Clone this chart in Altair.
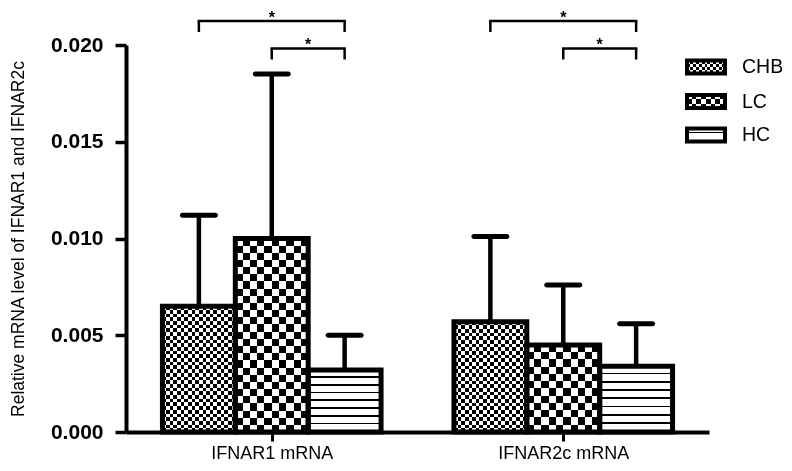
import altair as alt
import pandas as pd

# ---------------- data ----------------
genes = ["IFNAR1 mRNA", "IFNAR2c mRNA"]
groups = ["CHB", "LC", "HC"]
mean_chb = [0.0065, 0.0057]
mean_lc = [0.0100, 0.0045]
mean_hc = [0.0032, 0.0034]
sd_chb = [0.0047, 0.0044]
sd_lc = [0.0085, 0.0031]
sd_hc = [0.0018, 0.0022]
y_ticks = [0.0, 0.005, 0.010, 0.015, 0.020]
y_title = "Relative mRNA level of IFNAR1 and IFNAR2c"

# significance brackets
sig_gene = ["IFNAR1 mRNA", "IFNAR1 mRNA", "IFNAR2c mRNA", "IFNAR2c mRNA"]
sig_from = ["CHB", "LC", "CHB", "LC"]
sig_to = ["HC", "HC", "HC", "HC"]
sig_level = [0.02124, 0.01982, 0.02124, 0.01982]
sig_label = ["*", "*", "*", "*"]

# ---------------- layout / style ----------------
W, H = 583, 387
YMAX = 0.02
PX = H / YMAX            # pixels per unit on y
XUNITS = 8.0             # x domain (bar widths)
BAR_PX = W / XUNITS
FONT = "Liberation Sans"

means = {"CHB": mean_chb, "LC": mean_lc, "HC": mean_hc}
sds = {"CHB": sd_chb, "LC": sd_lc, "HC": sd_hc}

rows = []
for gi, g in enumerate(genes):
    for gj, grp in enumerate(groups):
        x0 = 4 * gi + 0.5 + gj
        m = means[grp][gi]
        rows.append(dict(gene=g, group=grp, x0=x0, x1=x0 + 1, xc=x0 + 0.5,
                         mean=m, top=m + sds[grp][gi], base=0.0))
df = pd.DataFrame(rows)

def center(gene, grp):
    return 4 * genes.index(gene) + 0.5 + groups.index(grp) + 0.5

sig_rows = []
for g, a, b, lv, lab in zip(sig_gene, sig_from, sig_to, sig_level, sig_label):
    xa, xb = center(g, a), center(g, b)
    sig_rows.append(dict(xa=xa, xb=xb, xm=(xa + xb) / 2, level=lv,
                         low=lv - 11 / PX, star=lv + 7 / PX, label=lab))
dsig = pd.DataFrame(sig_rows)

xscale = alt.Scale(domain=[0, XUNITS], nice=False, zero=False)
yscale = alt.Scale(domain=[0, YMAX], nice=False)
gene_centers = [4 * i + 2 for i in range(len(genes))]
label_expr = " : ".join(
    [f"datum.value == {c} ? '{g}'" for c, g in zip(gene_centers[:-1], genes[:-1])]
    + [f"'{genes[-1]}'"])
xaxis = alt.Axis(values=gene_centers, labelExpr=label_expr, title=None, grid=False,
                 domainWidth=4, domainColor="black", tickWidth=3, tickColor="black",
                 tickSize=9, labelFontSize=18, labelFont=FONT, labelColor="black",
                 labelPadding=3, labelFlush=False)
yaxis = alt.Axis(values=y_ticks, format=".3f", title=y_title, titleFont=FONT,
                 titleFontSize=17.5, titleFontWeight="normal", titleColor="black",
                 titlePadding=23, labelFont=FONT, labelFontSize=21,
                 labelFontWeight="bold", labelColor="black", tickSize=11,
                 tickWidth=3.5, tickColor="black", labelPadding=12,
                 domainWidth=4, domainColor="black", grid=False)

def X(f):
    return alt.X(f, type="quantitative", scale=xscale, axis=xaxis)

def Y(f):
    return alt.Y(f, type="quantitative", scale=yscale, axis=yaxis)

def grad(segments, direction):
    stops = []
    for a, b, c in segments:
        stops.append(alt.GradientStop(offset=round(a, 5), color=c))
        stops.append(alt.GradientStop(offset=round(b, 5), color=c))
    if direction == "y":
        return alt.LinearGradient(gradient="linear", stops=stops, x1=0, y1=0, x2=0, y2=1)
    return alt.LinearGradient(gradient="linear", stops=stops, x1=0, y1=0, x2=1, y2=0)

def alternating(n, c1="white", c2="black"):
    n = max(n, 1)
    return [(k / n, (k + 1) / n, c1 if k % 2 == 0 else c2) for k in range(n)]

def lines(n, frac):
    n = max(n, 1)
    segs = []
    for k in range(n):
        segs.append((k / n, (k + 1 - frac) / n, "white"))
        segs.append(((k + 1 - frac) / n, (k + 1) / n, "black"))
    return segs

CELL = {"CHB": 3.65, "LC": 7.3}

layers = []
for r in rows:
    h = r["mean"] * PX
    flt = (alt.datum.gene == r["gene"]) & (alt.datum.group == r["group"])
    enc = dict(x=X("x0"), x2="x1", y=Y("mean"), y2="base")
    if r["group"] in CELL:
        cs = CELL[r["group"]]
        base = grad(alternating(int(round(h / cs))), "y")
        over = grad(alternating(int(round(BAR_PX / cs)), "black", "white"), "x")
        layers.append(alt.Chart(df).transform_filter(flt).mark_rect(fill=base).encode(**enc))
        layers.append(alt.Chart(df).transform_filter(flt)
                      .mark_rect(fill=over, blend="difference").encode(**enc))
    else:
        layers.append(alt.Chart(df).transform_filter(flt)
                      .mark_rect(fill=grad(lines(int(round(h / 8.0)), 0.2), "y")).encode(**enc))

# outlines
layers.append(alt.Chart(df).mark_rect(fillOpacity=0, stroke="black", strokeWidth=5,
                                      strokeJoin="miter")
              .encode(x=X("x0"), x2="x1", y=Y("mean"), y2="base"))
# error bars (upper only)
layers.append(alt.Chart(df).mark_rule(color="black", strokeWidth=4.5)
              .encode(x=X("xc"), y=Y("mean"), y2="top"))
layers.append(alt.Chart(df).mark_tick(orient="horizontal", size=38, thickness=5,
                                      color="black", opacity=1, cornerRadius=2.5)
              .encode(x=X("xc"), y=Y("top")))
# significance brackets
layers.append(alt.Chart(dsig).mark_rule(color="black", strokeWidth=2.5, strokeCap="square")
              .encode(x=X("xa"), x2="xb", y=Y("level")))
layers.append(alt.Chart(dsig).mark_rule(color="black", strokeWidth=2.5)
              .encode(x=X("xa"), y=Y("level"), y2="low"))
layers.append(alt.Chart(dsig).mark_rule(color="black", strokeWidth=2.5)
              .encode(x=X("xb"), y=Y("level"), y2="low"))
layers.append(alt.Chart(dsig).mark_text(fontSize=16, fontWeight="bold", font=FONT,
                                        color="black", baseline="alphabetic", dy=9)
              .encode(x=X("xm"), y=Y("star"), text="label"))

# legend
leg_df = pd.DataFrame({"group": groups})
LEG_X0, LEG_X1, LEG_TX = 561, 599, 616
LEG_Y = [22, 56.5, 90]
SW_H = 13
leg_fill = {
    "CHB": (grad(alternating(4), "y"), grad(alternating(13, "black", "white"), "x")),
    "LC": (grad(alternating(3), "y"), grad(alternating(8, "black", "white"), "x")),
    "HC": (grad(lines(3, 0.14), "y"), None),
}
for grp, yc in zip(groups, LEG_Y):
    flt = alt.datum.group == grp
    enc = dict(x=alt.value(LEG_X0), x2=alt.value(LEG_X1),
               y=alt.value(yc - SW_H / 2), y2=alt.value(yc + SW_H / 2))
    f1, f2 = leg_fill[grp]
    layers.append(alt.Chart(leg_df).transform_filter(flt).mark_rect(fill=f1).encode(**enc))
    if f2 is not None:
        layers.append(alt.Chart(leg_df).transform_filter(flt)
                      .mark_rect(fill=f2, blend="difference").encode(**enc))
    layers.append(alt.Chart(leg_df).transform_filter(flt)
                  .mark_rect(fillOpacity=0, stroke="black", strokeWidth=4).encode(**enc))
    layers.append(alt.Chart(leg_df).transform_filter(flt)
                  .mark_text(align="left", baseline="middle", fontSize=19.5, font=FONT,
                             color="black")
                  .encode(x=alt.value(LEG_TX), y=alt.value(yc), text="group"))

chart = (alt.layer(*layers)
         .properties(width=W, height=H,
                     autosize=alt.AutoSizeParams(type="none"),
                     padding={"left": 118, "top": 37, "right": 73, "bottom": 30},
                     background="white")
         .configure(font=FONT)
         .configure_view(stroke="transparent", strokeWidth=0))

chart.save("out.html", embed_options={"renderer": "svg", "actions": False})
